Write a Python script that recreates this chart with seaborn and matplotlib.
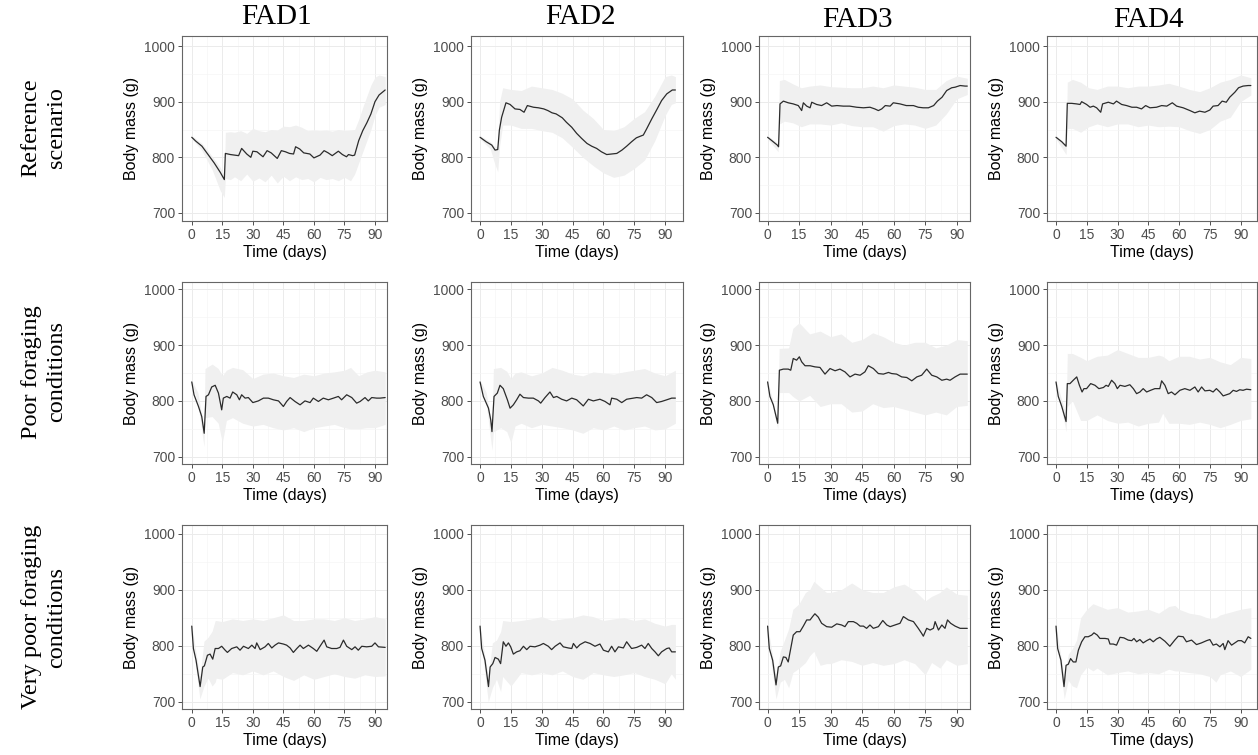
import numpy as np
import pandas as pd
import seaborn as sns
import matplotlib.pyplot as plt

# ---- data (days, body mass in g) ----
# Reference scenario
ref_fad1_day = [0, 2, 5, 8, 11, 14, 16, 16.5, 19, 21, 23, 24.5, 27, 29, 30, 32, 35, 37, 39, 42, 44, 46, 48, 50, 51, 53, 55, 58, 60, 63, 65, 67, 69, 72, 74, 76, 77, 79, 80, 82, 84, 86, 88, 90, 92, 95]
ref_fad1_mass = [836, 829, 820, 805, 790, 773, 760, 807, 805, 804, 803, 816, 806, 800, 811, 810, 801, 812, 808, 798, 812, 810, 807, 806, 819, 815, 808, 806, 799, 804, 812, 808, 803, 811, 805, 801, 805, 803, 804, 830, 848, 862, 878, 900, 912, 921]
ref_fad1_band_day = [0, 5, 10, 14, 16, 16.5, 19, 21, 24, 27, 30, 33, 36, 39, 42, 45, 48, 51, 54, 57, 60, 63, 66, 69, 72, 75, 78, 80, 82, 84, 86, 88, 90, 92, 95]
ref_fad1_lo = [833, 812, 778, 740, 728, 762, 760, 765, 758, 770, 757, 763, 756, 768, 754, 766, 758, 765, 760, 762, 756, 764, 760, 762, 758, 764, 758, 770, 790, 810, 830, 850, 875, 890, 895]
ref_fad1_hi = [839, 825, 802, 782, 768, 845, 846, 845, 848, 843, 852, 848, 846, 850, 849, 856, 855, 858, 854, 848, 849, 848, 849, 847, 850, 848, 849, 850, 868, 890, 910, 930, 944, 948, 945]

ref_fad2_day = [0, 3, 5.7, 7.3, 8.6, 9.4, 10.5, 12.6, 14.6, 17, 19.4, 21.4, 23, 26, 28.4, 31, 33, 35, 37, 40, 42, 44.6, 47, 49.4, 52, 54.3, 56.7, 59, 61.6, 64, 66.5, 69, 71.3, 73.7, 76, 78, 79.4, 81, 83.5, 86, 88.3, 90.8, 93.5, 95]
ref_fad2_mass = [836, 828, 822, 813, 814, 849, 872, 898, 895, 887, 886, 881, 893, 890, 889, 887, 884, 880, 878, 871, 863, 854, 843, 834, 825, 820, 816, 810, 805, 806, 807, 813, 820, 828, 835, 838, 840, 851, 869, 886, 902, 914, 921, 921]
ref_fad2_band_day = [0, 5, 7, 8.6, 9.5, 11, 15, 20, 25, 30, 35, 40, 45, 50, 55, 60, 65, 70, 75, 80, 85, 90, 93, 95]
ref_fad2_lo = [833, 815, 790, 774, 820, 858, 858, 852, 852, 848, 845, 835, 818, 800, 785, 772, 764, 768, 780, 795, 830, 875, 895, 898]
ref_fad2_hi = [839, 828, 820, 820, 900, 925, 922, 920, 928, 925, 922, 915, 905, 885, 870, 850, 848, 855, 870, 882, 910, 945, 948, 945]

ref_fad3_day = [0, 2, 4.6, 5.2, 5.9, 7.5, 9.8, 12.2, 14.6, 16.2, 17, 18.6, 20.2, 21, 23.3, 25.7, 28.1, 30.5, 33, 36, 39, 42.4, 45.6, 48.7, 51, 52.7, 54.3, 56, 58.3, 59.8, 63, 66, 69.4, 71.7, 74, 76.5, 79, 80.8, 83, 85.2, 87.6, 89.2, 91.6, 94, 95]
ref_fad3_mass = [836, 830, 822, 819, 896, 901, 898, 896, 893, 884, 898, 892, 889, 899, 895, 893, 898, 892, 893, 892, 892, 890, 889, 890, 887, 884, 887, 893, 892, 898, 896, 893, 893, 890, 889, 889, 893, 901, 908, 920, 925, 926, 929, 928, 928]
ref_fad3_band_day = [0, 5, 5.6, 8, 12, 16, 20, 25, 30, 35, 40, 45, 50, 55, 60, 65, 70, 75, 80, 85, 90, 95]
ref_fad3_lo = [833, 810, 860, 865, 862, 855, 860, 860, 858, 862, 857, 855, 855, 847, 857, 860, 858, 852, 858, 878, 905, 913]
ref_fad3_hi = [839, 825, 938, 940, 932, 925, 928, 930, 927, 926, 925, 925, 928, 925, 930, 928, 926, 922, 922, 938, 946, 942]

ref_fad4_day = [0, 2.8, 4.9, 5.5, 7.6, 10, 11.7, 12.5, 14.9, 16.6, 18.2, 19.8, 21.8, 22.7, 25.5, 28, 29.5, 32, 34.4, 37, 39.3, 41.7, 43.7, 45.8, 49, 51.5, 54, 56.7, 58.8, 62, 65.3, 67.7, 70, 72.6, 75, 76.6, 79, 81, 83, 84.7, 87.2, 89, 91.2, 93.7, 95]
ref_fad4_mass = [836, 828, 820, 897, 897, 896, 895, 900, 895, 890, 892, 889, 881, 896, 899, 896, 901, 895, 893, 890, 890, 887, 893, 889, 890, 893, 892, 898, 892, 889, 884, 880, 883, 881, 885, 892, 893, 901, 899, 908, 917, 925, 928, 929, 929]
ref_fad4_band_day = [0, 4.9, 5.5, 8, 12, 16, 20, 25, 30, 35, 40, 45, 50, 55, 60, 65, 70, 75, 80, 85, 90, 95]
ref_fad4_lo = [833, 805, 852, 852, 845, 855, 860, 855, 860, 860, 855, 858, 855, 856, 855, 848, 843, 850, 865, 872, 900, 912]
ref_fad4_hi = [839, 823, 935, 940, 935, 925, 922, 928, 928, 925, 928, 928, 930, 933, 928, 922, 918, 925, 935, 940, 948, 943]

# Poor foraging conditions
poor_fad1_day = [0, 1.1, 3.3, 4.9, 6.1, 7, 8.2, 9.8, 11.5, 13.1, 14.7, 15.5, 17.2, 18.8, 20.1, 22.1, 23.4, 24.5, 26.2, 27.8, 30, 32.7, 35.2, 37.6, 40.1, 42.6, 45, 46.6, 48.3, 50.7, 53.2, 55.6, 58.1, 59.7, 62.2, 64.6, 67.1, 69.6, 72, 73.6, 76.1, 78.6, 81, 82.7, 85.1, 86.7, 88.4, 90.8, 92.5, 95]
poor_fad1_mass = [834, 811, 790, 772, 742, 808, 811, 825, 828, 814, 784, 805, 808, 805, 816, 811, 802, 811, 805, 806, 797, 800, 805, 805, 802, 800, 790, 799, 806, 799, 793, 800, 797, 805, 799, 805, 802, 805, 808, 802, 811, 806, 796, 799, 806, 800, 806, 805, 805, 806]
poor_fad1_band_day = [0, 3, 6, 6.5, 10, 13, 15, 17, 20, 25, 30, 35, 40, 45, 50, 55, 60, 65, 70, 75, 78, 82, 86, 90, 95]
poor_fad1_lo = [833, 795, 718, 770, 772, 760, 725, 765, 770, 760, 755, 758, 752, 748, 752, 745, 752, 755, 758, 752, 750, 750, 752, 752, 758]
poor_fad1_hi = [837, 815, 750, 858, 866, 858, 845, 855, 860, 856, 840, 848, 850, 845, 842, 848, 845, 850, 852, 855, 860, 845, 852, 855, 852]

poor_fad2_day = [0, 1.6, 4.1, 5.2, 5.8, 6.8, 8.4, 9.7, 11.3, 13.3, 14.6, 16.2, 17.8, 19.4, 21.1, 23.5, 25.9, 28.4, 29.5, 31.6, 34, 35.7, 37.3, 39.7, 42.1, 44.6, 47, 50.2, 52.7, 55.1, 58.3, 60.8, 63.2, 64, 66.5, 68.9, 71.3, 74.6, 76.2, 78.6, 81, 83.5, 85.9, 88.3, 90.8, 93.2, 95]
poor_fad2_mass = [834, 808, 787, 766, 745, 808, 814, 828, 822, 802, 787, 793, 802, 812, 806, 805, 805, 800, 796, 806, 816, 806, 808, 803, 800, 805, 802, 791, 803, 800, 803, 799, 793, 805, 803, 797, 803, 805, 806, 805, 811, 806, 797, 799, 802, 805, 805]
poor_fad2_band_day = [0, 3, 5.8, 6.5, 10, 13, 15, 17, 20, 25, 30, 35, 40, 45, 50, 55, 60, 65, 70, 75, 80, 85, 90, 95]
poor_fad2_lo = [833, 795, 712, 745, 752, 745, 725, 755, 760, 752, 758, 755, 752, 748, 742, 752, 748, 755, 748, 752, 755, 748, 750, 760]
poor_fad2_hi = [837, 815, 752, 858, 860, 853, 840, 850, 852, 845, 850, 860, 855, 848, 845, 852, 850, 848, 852, 855, 858, 850, 845, 855]

poor_fad3_day = [0, 1.1, 2.7, 4.8, 5.6, 7.5, 9.8, 11, 12.2, 13.8, 15.1, 16.2, 17.8, 20.2, 22.5, 24.9, 27.3, 29.7, 32.1, 34.4, 36.8, 39.2, 41.6, 44, 46.3, 47.9, 50.3, 52.7, 55.1, 57.5, 59, 61.4, 63.8, 66.2, 68.6, 71, 73.3, 75.7, 78.1, 80.5, 82.9, 85.2, 86.8, 89.2, 91.6, 95]
poor_fad3_mass = [834, 808, 793, 760, 855, 857, 857, 855, 876, 873, 879, 870, 863, 863, 861, 860, 848, 858, 854, 857, 852, 843, 848, 846, 852, 863, 858, 849, 848, 851, 849, 848, 843, 842, 836, 843, 846, 857, 846, 843, 837, 839, 837, 843, 848, 848]
poor_fad3_band_day = [0, 4.8, 5.5, 10, 12, 15, 20, 25, 30, 35, 40, 45, 50, 55, 60, 65, 70, 75, 80, 85, 90, 95]
poor_fad3_lo = [833, 750, 815, 815, 808, 800, 810, 790, 795, 795, 780, 782, 795, 788, 790, 785, 780, 775, 780, 775, 790, 792]
poor_fad3_hi = [837, 765, 894, 895, 930, 940, 920, 925, 915, 920, 905, 910, 922, 915, 905, 900, 905, 905, 895, 900, 910, 908]

poor_fad4_day = [0, 1.1, 2.8, 4.9, 5.5, 6.8, 8.4, 10.1, 11.4, 12.7, 13.6, 14.9, 16.9, 19, 20.9, 23.1, 24.4, 25.5, 27.1, 28.7, 29.9, 31.2, 33.6, 36, 37.7, 39.3, 40.9, 42.5, 44.2, 46.1, 48.2, 50.6, 51.5, 53.1, 54.7, 56.3, 58, 60.4, 62.8, 65.3, 67.7, 69.3, 71, 72.6, 75, 76.6, 78.2, 79.9, 81.5, 83.1, 84.7, 86.4, 88, 89.6, 91.2, 92.9, 95]
poor_fad4_mass = [834, 808, 790, 763, 831, 831, 837, 843, 828, 816, 822, 822, 831, 828, 822, 824, 828, 826, 837, 831, 822, 828, 826, 829, 822, 813, 816, 822, 816, 819, 822, 822, 836, 828, 813, 816, 811, 819, 822, 819, 825, 816, 825, 818, 819, 816, 822, 816, 809, 811, 813, 819, 817, 820, 819, 821, 820]
poor_fad4_band_day = [0, 4.9, 5.5, 8, 12, 15, 20, 25, 30, 35, 40, 45, 50, 52, 55, 60, 65, 70, 75, 80, 85, 90, 95]
poor_fad4_lo = [833, 745, 790, 800, 765, 765, 775, 765, 760, 762, 755, 760, 762, 778, 760, 760, 758, 762, 758, 752, 758, 765, 768]
poor_fad4_hi = [837, 775, 885, 885, 878, 872, 880, 882, 892, 885, 878, 878, 882, 880, 872, 880, 880, 875, 878, 870, 865, 878, 876]

# Very poor foraging conditions
vpoor_fad1_day = [0, 0.8, 2.1, 4.1, 5.4, 6.2, 7.7, 9, 10.3, 11.5, 13.1, 14.7, 16.4, 17.5, 19.6, 22.1, 23.7, 25.4, 27.8, 29.5, 31.1, 31.9, 33.6, 36, 37.6, 39.3, 40.9, 42.6, 45, 46.6, 48.3, 49.9, 51.6, 53.2, 54.8, 57.3, 59.7, 61.4, 63, 65, 66.3, 68.7, 71.2, 72.8, 74.5, 76.1, 78.6, 80.2, 81.8, 83.5, 85.9, 88.4, 90, 91.7, 95]
vpoor_fad1_mass = [835, 795, 774, 727, 762, 764, 783, 785, 776, 795, 795, 799, 792, 788, 795, 798, 792, 799, 795, 801, 795, 805, 793, 798, 804, 796, 801, 805, 803, 801, 796, 788, 795, 801, 795, 801, 795, 790, 799, 810, 798, 795, 795, 797, 810, 799, 793, 798, 792, 799, 798, 799, 805, 798, 797]
vpoor_fad1_band_day = [0, 2, 4, 6, 8, 10, 11.5, 12, 15, 20, 25, 30, 35, 40, 45, 50, 55, 60, 65, 70, 75, 80, 85, 90, 95]
vpoor_fad1_lo = [833, 760, 705, 728, 742, 728, 735, 742, 740, 752, 748, 755, 748, 755, 745, 738, 748, 740, 745, 750, 745, 742, 748, 745, 746]
vpoor_fad1_hi = [837, 790, 745, 808, 815, 826, 845, 845, 843, 848, 845, 848, 845, 850, 855, 845, 845, 848, 848, 845, 850, 845, 848, 852, 848]

vpoor_fad2_day = [0, 0.8, 2.4, 4.1, 4.9, 6.2, 7.3, 8.9, 10, 11.3, 12.6, 13.8, 14.9, 16.2, 17.8, 19.4, 21.1, 22.7, 24.3, 26.7, 29.2, 30.8, 33.2, 34.8, 36.5, 38.9, 40.5, 42.9, 44.6, 45.4, 47, 48.6, 51.1, 53.5, 55.9, 58.3, 60, 62.4, 64, 65.6, 67.3, 69.7, 71.3, 73.7, 76.2, 78.6, 80.2, 81.8, 83.5, 85.1, 86.7, 88.3, 90.8, 92, 93.2, 95]
vpoor_fad2_mass = [835, 795, 774, 727, 762, 768, 779, 776, 768, 807, 799, 805, 798, 785, 789, 791, 799, 793, 799, 798, 801, 804, 799, 793, 799, 805, 798, 796, 795, 804, 796, 802, 807, 804, 799, 803, 792, 789, 799, 789, 798, 796, 807, 795, 797, 801, 795, 804, 795, 789, 782, 789, 795, 796, 789, 789]
vpoor_fad2_band_day = [0, 2, 4, 6, 8, 10, 11, 15, 20, 25, 30, 35, 40, 45, 50, 55, 60, 65, 70, 75, 80, 85, 90, 93, 95]
vpoor_fad2_lo = [833, 760, 700, 725, 740, 718, 745, 728, 752, 748, 752, 748, 755, 745, 740, 752, 748, 745, 748, 752, 745, 740, 732, 750, 740]
vpoor_fad2_hi = [837, 790, 745, 805, 810, 825, 845, 843, 845, 848, 852, 845, 848, 850, 855, 852, 845, 848, 850, 845, 848, 840, 835, 838, 838]

vpoor_fad3_day = [0, 0.8, 2.4, 4, 5.1, 6.2, 7.5, 8.7, 9.8, 11, 12.2, 13.8, 15.4, 17, 18.6, 20.2, 21.4, 22.5, 24.1, 25.7, 28.1, 30.5, 32.9, 35.2, 36.8, 38.4, 40.8, 42.4, 44, 45.6, 47.1, 48.7, 50.3, 52.7, 54.8, 56.7, 58.3, 60.6, 63, 64.6, 67, 69.4, 71.7, 73.3, 74.1, 75.7, 77.3, 78.9, 79.7, 81.3, 82.9, 84.4, 85.6, 87.1, 89.2, 91.6, 95]
vpoor_fad3_mass = [835, 795, 774, 730, 762, 764, 780, 779, 771, 795, 819, 825, 825, 835, 846, 846, 852, 857, 851, 840, 834, 833, 839, 837, 834, 843, 843, 840, 835, 835, 831, 837, 831, 834, 845, 837, 834, 837, 840, 852, 846, 843, 831, 822, 817, 831, 828, 831, 843, 828, 837, 831, 846, 840, 835, 831, 831]
vpoor_fad3_band_day = [0, 2, 4, 6, 8, 10, 12, 15, 18, 20, 22, 25, 28, 30, 35, 40, 45, 50, 55, 60, 65, 70, 75, 78, 82, 85, 90, 95]
vpoor_fad3_lo = [833, 760, 705, 735, 740, 725, 752, 760, 770, 782, 790, 765, 768, 768, 775, 772, 765, 770, 765, 768, 775, 768, 748, 770, 760, 775, 765, 768]
vpoor_fad3_hi = [837, 790, 745, 790, 810, 830, 865, 875, 895, 900, 915, 905, 895, 895, 900, 912, 900, 895, 895, 905, 910, 898, 880, 888, 895, 905, 892, 890]

vpoor_fad4_day = [0, 0.8, 2.4, 3.9, 4.9, 6, 7.1, 8.4, 9.7, 10.9, 12.5, 14.1, 15.7, 17.4, 18.5, 20.1, 21.4, 23.9, 25.5, 26.3, 27.9, 29.5, 31.2, 33.1, 35.2, 36.9, 38, 39.3, 40.9, 42.5, 44.2, 45.8, 47.4, 49, 50.6, 53.1, 55.5, 57.9, 59.6, 62, 63.6, 66.1, 68.5, 70.9, 73.4, 75, 76.6, 78.2, 79.9, 81.5, 82.3, 83.9, 85.6, 87.2, 88.8, 90.4, 92, 93.7, 95]
vpoor_fad4_mass = [835, 795, 774, 727, 765, 767, 777, 771, 771, 792, 807, 816, 816, 819, 823, 819, 813, 813, 812, 803, 803, 801, 815, 814, 810, 809, 813, 807, 811, 805, 809, 812, 807, 812, 815, 808, 799, 810, 817, 816, 807, 810, 802, 805, 809, 811, 801, 803, 798, 804, 793, 809, 801, 805, 809, 809, 805, 816, 813]
vpoor_fad4_band_day = [0, 2, 4, 6, 8, 10, 12, 15, 18, 20, 25, 30, 35, 40, 45, 50, 55, 58, 60, 65, 70, 75, 78, 80, 85, 90, 95]
vpoor_fad4_lo = [833, 760, 705, 738, 728, 725, 748, 762, 755, 760, 748, 752, 755, 750, 752, 750, 758, 755, 755, 752, 750, 745, 735, 748, 755, 745, 758]
vpoor_fad4_hi = [837, 790, 745, 785, 795, 810, 850, 865, 875, 872, 865, 868, 860, 862, 865, 858, 870, 872, 865, 858, 855, 848, 850, 855, 860, 865, 868]

fad_names = ["FAD1", "FAD2", "FAD3", "FAD4"]
scenario_names = ["Reference\nscenario", "Poor foraging\nconditions", "Very poor foraging\nconditions"]
x_ticks = [0, 15, 30, 45, 60, 75, 90]
y_ticks = [700, 800, 900, 1000]

panels = [
    [(ref_fad1_day, ref_fad1_mass, ref_fad1_band_day, ref_fad1_lo, ref_fad1_hi),
     (ref_fad2_day, ref_fad2_mass, ref_fad2_band_day, ref_fad2_lo, ref_fad2_hi),
     (ref_fad3_day, ref_fad3_mass, ref_fad3_band_day, ref_fad3_lo, ref_fad3_hi),
     (ref_fad4_day, ref_fad4_mass, ref_fad4_band_day, ref_fad4_lo, ref_fad4_hi)],
    [(poor_fad1_day, poor_fad1_mass, poor_fad1_band_day, poor_fad1_lo, poor_fad1_hi),
     (poor_fad2_day, poor_fad2_mass, poor_fad2_band_day, poor_fad2_lo, poor_fad2_hi),
     (poor_fad3_day, poor_fad3_mass, poor_fad3_band_day, poor_fad3_lo, poor_fad3_hi),
     (poor_fad4_day, poor_fad4_mass, poor_fad4_band_day, poor_fad4_lo, poor_fad4_hi)],
    [(vpoor_fad1_day, vpoor_fad1_mass, vpoor_fad1_band_day, vpoor_fad1_lo, vpoor_fad1_hi),
     (vpoor_fad2_day, vpoor_fad2_mass, vpoor_fad2_band_day, vpoor_fad2_lo, vpoor_fad2_hi),
     (vpoor_fad3_day, vpoor_fad3_mass, vpoor_fad3_band_day, vpoor_fad3_lo, vpoor_fad3_hi),
     (vpoor_fad4_day, vpoor_fad4_mass, vpoor_fad4_band_day, vpoor_fad4_lo, vpoor_fad4_hi)],
]

# ---- layout (pixels in a 1258x755 canvas) ----
W, H = 1258, 755
cols = [(182, 387, (-4.8, 95.9)), (471, 683, (-4.4, 98.7)),
        (759, 970, (-4.1, 96.3)), (1047, 1257, (-4.4, 98.0))]
rows = [(36, 221, (685.6, 1018)), (282, 464, (687, 1013)), (525, 709, (687, 1015.5))]
title_x = [277, 580, 857, 1148]
title_y = [17, 17, 20, 20]
row_label_y = [128, 372, 617]

sns.set_theme(style="white")
plt.rcParams['font.family'] = ['Liberation Sans', 'DejaVu Sans']

fig = plt.figure(figsize=(W / 100, H / 100), dpi=100)

for i, (top, bot, ylim) in enumerate(rows):
    for j, (left, right, xlim) in enumerate(cols):
        ax = fig.add_axes([left / W, 1 - bot / H, (right - left) / W, (bot - top) / H])
        day, mass, band_day, lo, hi = panels[i][j]
        ax.fill_between(band_day, lo, hi, color="#f0f0f0", linewidth=0, zorder=1)
        df = pd.DataFrame({"Time (days)": day, "Body mass (g)": mass})
        sns.lineplot(data=df, x="Time (days)", y="Body mass (g)", ax=ax,
                     color="#2b2b2b", linewidth=0.9, zorder=3)
        ax.set_xlim(*xlim)
        ax.set_ylim(*ylim)
        ax.set_xticks(x_ticks)
        ax.set_yticks(y_ticks)
        ax.set_xticks([7.5, 22.5, 37.5, 52.5, 67.5, 82.5], minor=True)
        ax.set_yticks([750, 850, 950], minor=True)
        ax.grid(which="major", color="#ebebeb", linewidth=0.7, zorder=0)
        ax.grid(which="minor", color="#f5f5f5", linewidth=0.5, zorder=0)
        ax.set_axisbelow(True)
        for sp in ax.spines.values():
            sp.set_color("#666666")
            sp.set_linewidth(0.8)
        ax.tick_params(which="major", direction="out", length=3, width=0.6,
                       color="#333333", labelcolor="#4d4d4d", labelsize=10, pad=2,
                       bottom=True, left=True)
        ax.tick_params(which="minor", length=0)
        ax.set_xlabel("Time (days)", fontsize=11.5, color="black")
        ax.set_ylabel("Body mass (g)", fontsize=11.5, color="black")
        ax.xaxis.set_label_coords(0.5, -(24 / (bot - top)))
        ax.yaxis.set_label_coords(-(43 / (right - left)), 0.5)

for j, name in enumerate(fad_names):
    fig.text(title_x[j] / W, 1 - title_y[j] / H, name, ha="center", va="center",
             fontsize=21, family="Liberation Serif", color="black")

for i, name in enumerate(scenario_names):
    fig.text(44 / W, 1 - row_label_y[i] / H, name, ha="center", va="center",
             rotation=90, fontsize=17.5, family="Liberation Serif", linespacing=1.3,
             multialignment="center", color="black")

fig.savefig("out.png", dpi=100, facecolor="white")
